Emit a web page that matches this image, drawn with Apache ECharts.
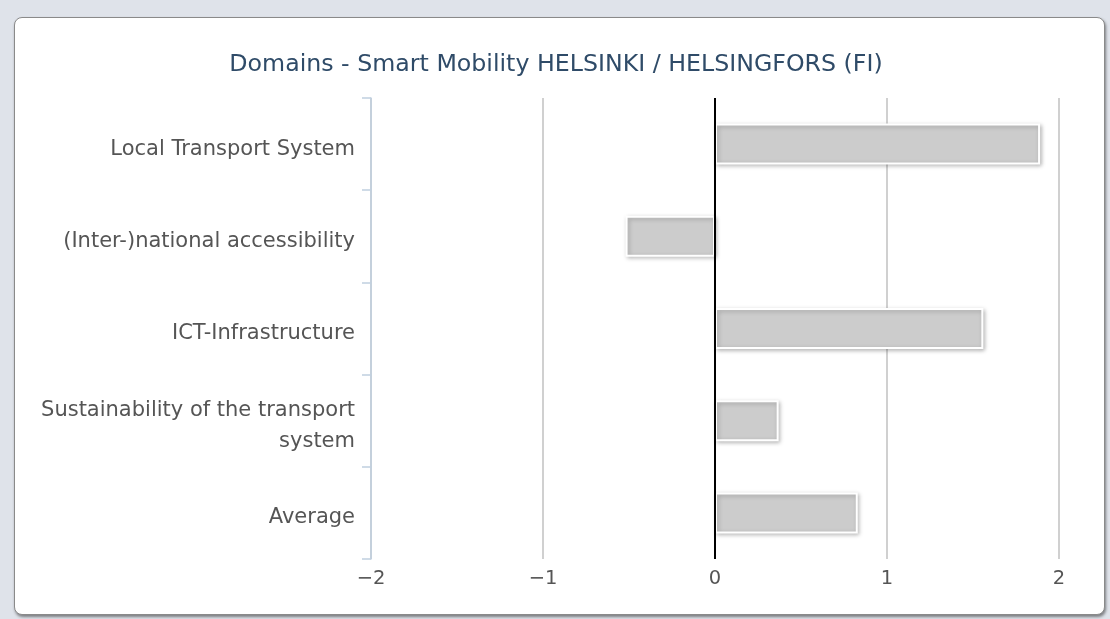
<!DOCTYPE html>
<html>
<head>
<meta charset="utf-8">
<script src="https://cdn.jsdelivr.net/npm/echarts@6/dist/echarts.min.js"></script>
<style>
    html, body { margin: 0; padding: 0; background: #dfe3ea; }
    #box {
        position: absolute; left: 14px; top: 17px; width: 1089px; height: 596px;
        background: #fff; border: 1px solid #8a8a8a; border-radius: 8px;
        box-shadow: 1px 2px 3px rgba(0,0,0,0.45);
    }
    #chart { position: absolute; left: 0; top: 0; width: 1110px; height: 619px; }
</style>
</head>
<body>
<div id="box"></div>
<div id="chart"></div>
<script>
// 数据
const categories = [
    'Local Transport System',
    '(Inter-)national accessibility',
    'ICT-Infrastructure',
    'Sustainability of the transport\nsystem',
    'Average'
];
const values = [1.89, -0.52, 1.56, 0.37, 0.83];
const xTicks = [-2, -1, 0, 1, 2];

const chart = echarts.init(document.getElementById('chart'));

const option = {
    animation: false,
    title: {
        text: 'Domains - Smart Mobility HELSINKI / HELSINGFORS (FI)',
        left: 551,
        textAlign: 'center',
        top: 48,
        textStyle: { color: '#2f4b68', fontSize: 23.7, fontWeight: 'normal', fontFamily: 'DejaVu Sans' }
    },
    grid: { left: 371, right: 51, top: 98, bottom: 60 },
    xAxis: {
        type: 'value',
        min: xTicks[0],
        max: xTicks[xTicks.length - 1],
        interval: 1,
        axisLine: { show: false },
        axisTick: { show: false },
        splitLine: { lineStyle: { color: '#c0c0c0', width: 1.5 } },
        axisLabel: {
            color: '#555', fontSize: 19.5, fontFamily: 'DejaVu Sans', margin: 10,
            formatter: v => String(v).replace('-', '\u2212')
        }
    },
    yAxis: {
        type: 'category',
        inverse: true,
        data: categories,
        axisLine: { show: true, onZero: false, lineStyle: { color: '#c0d0e0', width: 1.5 } },
        axisTick: { show: true, length: 9, lineStyle: { color: '#c0d0e0', width: 1.5 } },
        axisLabel: {
            margin: 16,
            formatter: v => v.split('\n').map(s => '{a|' + s + '}').join('\n'),
            rich: {
                a: {
                    color: '#555', fontSize: 21, fontFamily: 'DejaVu Sans',
                    lineHeight: 31, padding: [10, 0, 0, 0]
                }
            }
        }
    },
    series: [{
        type: 'bar',
        data: values,
        barWidth: 41,
        itemStyle: {
            color: '#cccccc',
            borderColor: '#ffffff',
            borderWidth: 2,
            shadowColor: 'rgba(0,0,0,0.25)',
            shadowBlur: 4,
            shadowOffsetX: 1.5,
            shadowOffsetY: 1.5
        },
        markLine: {
            silent: true,
            symbol: ['none', 'none'],
            label: { show: false },
            lineStyle: { color: '#000', type: 'solid', width: 2 },
            data: [{ xAxis: 0 }]
        }
    }]
};
chart.setOption(option);
</script>
</body>
</html>
